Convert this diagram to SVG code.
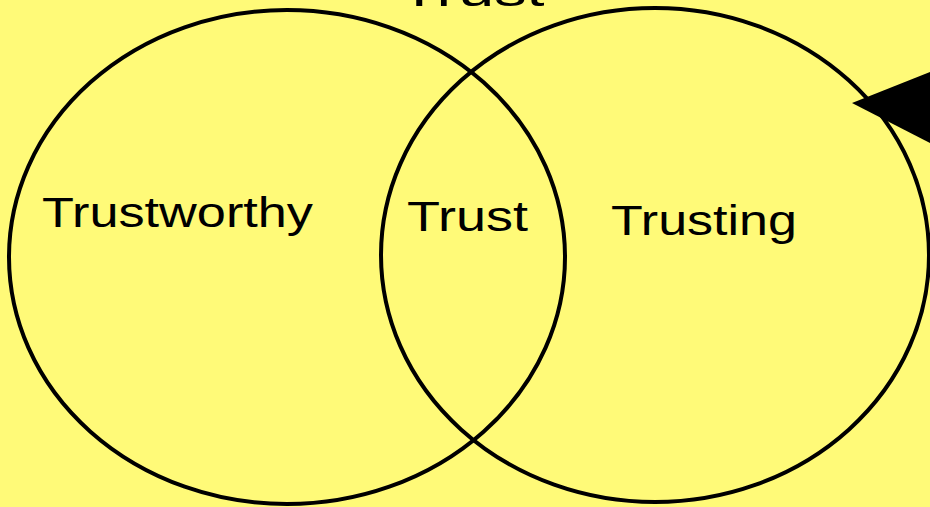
<svg xmlns="http://www.w3.org/2000/svg" width="930" height="507" viewBox="0 0 930 507">
<style>
.set{fill:none;stroke:#000;stroke-width:4}
.lbl{font-family:"Liberation Sans","DejaVu Sans",sans-serif;font-size:42px;fill:#000}
</style>
<rect width="930" height="507" fill="#fffa78"/>
<g id="title"><text class="lbl" x="472" y="6" text-anchor="middle" textLength="145" lengthAdjust="spacingAndGlyphs">Trust</text></g>
<g id="trustworthy-set"><ellipse class="set" cx="287" cy="257" rx="278" ry="247"/></g>
<g id="trusting-set"><ellipse class="set" cx="655" cy="255" rx="274" ry="247"/></g>
<g id="label-trustworthy"><text class="lbl" x="42" y="227" textLength="271" lengthAdjust="spacingAndGlyphs">Trustworthy</text></g>
<g id="label-trust"><text class="lbl" x="407" y="231" textLength="121" lengthAdjust="spacingAndGlyphs">Trust</text></g>
<g id="label-trusting"><text class="lbl" x="611" y="235" textLength="186" lengthAdjust="spacingAndGlyphs">Trusting</text></g>
<g id="connectors"><polygon points="852,103 930,72 930,143" fill="#000"/></g>
</svg>
